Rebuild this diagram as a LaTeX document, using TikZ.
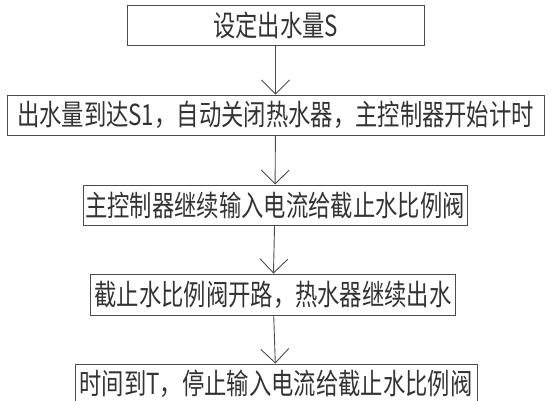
\documentclass[tikz,border=0pt]{standalone}
\usepackage{fontspec}
\newfontfamily\cjk[FakeStretch=0.77]{Noto Sans CJK SC}
\usetikzlibrary{arrows.meta}
\begin{document}
\begin{tikzpicture}[x=1pt,y=-1pt,
	stepbox/.style={draw=black!70,line width=0.9pt,minimum height=40pt,inner sep=0pt,text=black!80,font=\cjk\fontsize{29}{29}\selectfont},
	flow/.style={draw=black!70,line width=0.9pt,-{Straight Barb[length=14pt,width=28pt,line width=0.9pt]}}]
	\useasboundingbox (0,0) rectangle (551,400);
	\node[stepbox,minimum width=297pt] (set) at (275.5,25) {设定出水量S};
	\node[stepbox,minimum width=537pt] (reach) at (275.5,115) {出水量到达S1，自动关闭热水器，主控制器开始计时};
	\node[stepbox,minimum width=384pt] (feed) at (275,205) {主控制器继续输入电流给截止水比例阀};
	\node[stepbox,minimum width=365pt,minimum height=41pt] (open) at (273,294.5) {截止水比例阀开路，热水器继续出水};
	\node[stepbox,minimum width=402pt] (stop) at (276,384) {时间到T，停止输入电流给截止水比例阀};
	\draw[flow] (set) -- (reach);
	\draw[flow] (reach) -- (feed);
	\draw[flow] (feed) -- (open);
	\draw[flow] (open) -- (stop);
\end{tikzpicture}
\end{document}
